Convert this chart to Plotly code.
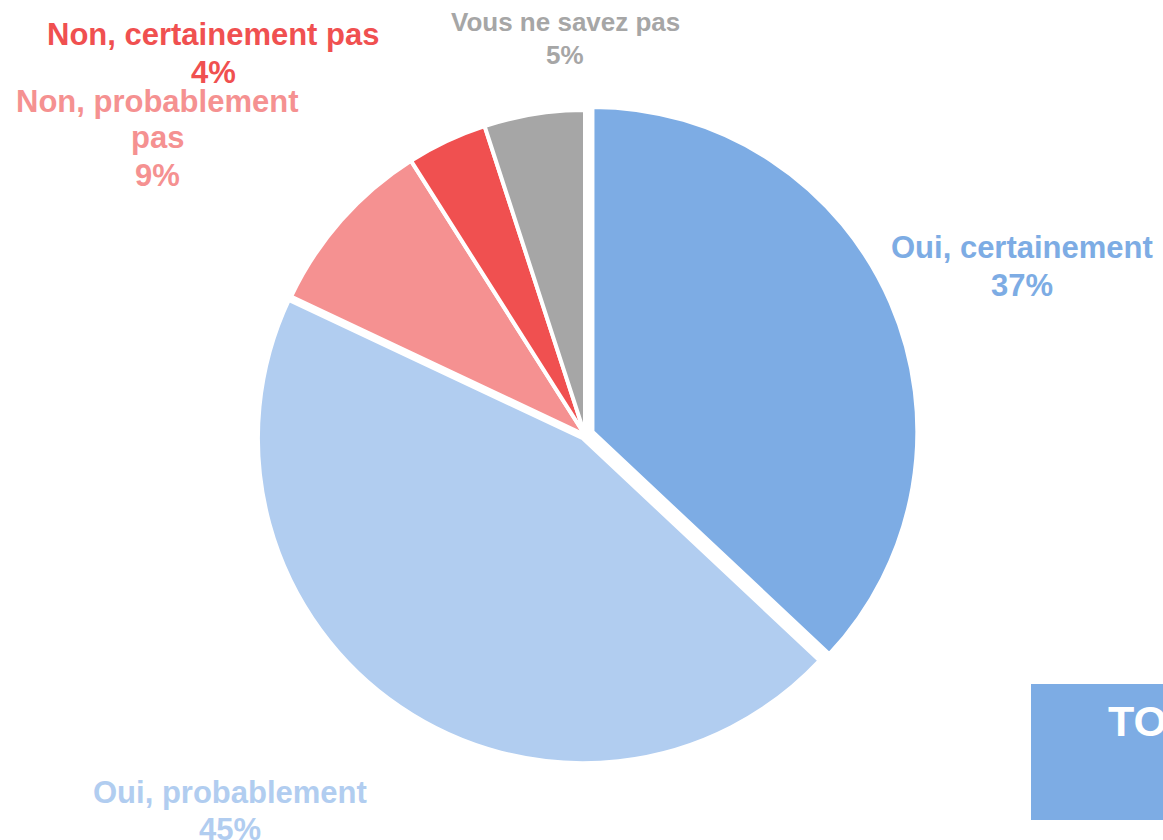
import plotly.graph_objects as go

# Données du sondage
categories = ["Oui, certainement", "Oui, probablement", "Non, probablement pas",
              "Non, certainement pas", "Vous ne savez pas"]
valeurs = [37, 45, 9, 4, 5]
couleurs = ["#7DACE4", "#B1CDF0", "#F59191", "#F05050", "#A6A6A6"]
etiquettes = [["Oui, certainement"], ["Oui, probablement"], ["Non, probablement", "pas"],
              ["Non, certainement pas"], ["Vous ne savez pas"]]
total_label = "TOTAL OUI"

W, H = 1163, 840


def px_x(x):
    return x / W


def px_y(y):
    return 1 - y / H


fig = go.Figure()
fig.add_trace(go.Pie(
    labels=categories,
    values=valeurs,
    marker=dict(colors=couleurs, line=dict(color="white", width=4)),
    sort=False,
    direction="clockwise",
    rotation=0,
    pull=[0.025, 0.012, 0, 0, 0],
    textinfo="none",
    hoverinfo="label+percent",
    showlegend=False,
    domain=dict(x=[px_x(252), px_x(918)], y=[px_y(768), px_y(102)]),
))

# Étiquettes externes : centre x, centre y de la 1re ligne, interligne, taille (px)
positions = [(1022, 247, 38, 31), (230, 792, 37, 31), (157, 101, 37, 31),
             (213, 35, 37, 31), (565, 22, 33, 26)]
for lignes, val, col, (x, y0, dy, size) in zip(etiquettes, valeurs, couleurs, positions):
    for i, txt in enumerate(lignes + [f"{val}%"]):
        fig.add_annotation(
            x=px_x(x), y=px_y(y0 + i * dy), xref="paper", yref="paper",
            text=f"<b>{txt}</b>",
            showarrow=False, xanchor="center", yanchor="middle",
            font=dict(family="Liberation Sans, Arial", size=size, color=col),
        )

# Encadré "TOTAL OUI" (coupé en bord de page)
fig.add_shape(type="rect", xref="paper", yref="paper",
              x0=px_x(1031), x1=1.1, y0=px_y(820), y1=px_y(684),
              fillcolor="#7DACE4", line=dict(width=0), layer="below")
fig.add_annotation(
    x=px_x(1106), y=px_y(721), xref="paper", yref="paper",
    text=f"<b>{total_label}</b>", showarrow=False,
    xanchor="left", yanchor="middle",
    font=dict(family="Liberation Sans, Arial", size=43, color="white"),
)

fig.update_layout(
    width=W, height=H,
    margin=dict(l=0, r=0, t=0, b=0),
    paper_bgcolor="white",
    plot_bgcolor="white",
)

fig.write_html(
    "out.html",
    config={"displayModeBar": False},
    post_script="document.body.style.margin='0';document.body.style.overflow='hidden';",
)
